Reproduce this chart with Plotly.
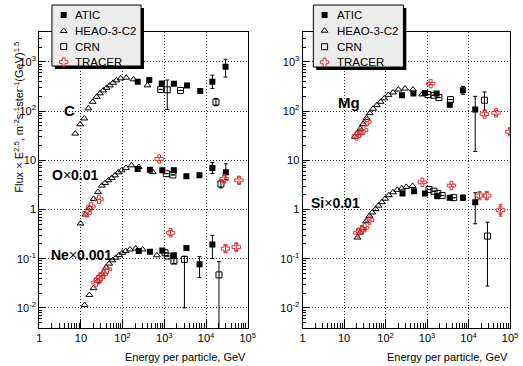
import plotly.graph_objects as go

W, H = 523, 366
FONT = "Arial, 'Liberation Sans', Helvetica, sans-serif"
RED = "rgb(225,50,50)"

# ---------------- data (energy per particle in GeV, flux x E^2.5, scaled) -------------
# Carbon (x1)
HEAO_C_E = [7.3, 9.6, 12.0, 15.1, 19.2, 23.9, 28.6, 34.2, 41.2, 49.3, 59, 71, 90, 122, 182, 396]
HEAO_C_F = [35, 54, 71, 114, 155, 196, 230, 264, 299, 334, 378, 424, 465, 479, 444, 335]
ATIC_C_E = [230, 435, 869, 1698, 3499, 7261, 14190, 29310]
ATIC_C_F = [396, 430, 367, 361, 334, 256, 396, 802]
ATIC_C_HI = [396, 430, 367, 361, 334, 272, 541, 1135]
ATIC_C_LO = [396, 430, 367, 361, 334, 240, 290, 494]
CRN_C_E = [818, 1175, 2438, 17300]
CRN_C_F = [277, 272, 264, 153]
CRN_C_HI = [277, 430, 264, 182]
CRN_C_LO = [277, 108, 264, 129]

# Oxygen (x0.01)
HEAO_O_E = [9.8, 12.8, 16.0, 20.2, 25.6, 31.8, 38.1, 45.6, 55.0, 65.8, 78.7, 94.6, 120, 163, 243, 528]
HEAO_O_F = [0.52, 0.79, 1.07, 1.64, 2.28, 3.06, 3.47, 3.93, 4.39, 4.95, 5.70, 6.27, 7.0, 7.9, 7.35, 5.8]
ATIC_O_E = [230, 450, 893, 1690, 3373, 6950, 14190, 29850]
ATIC_O_F = [6.68, 6.47, 6.27, 6.27, 4.73, 4.95, 7.0, 5.70]
ATIC_O_HI = [6.68, 6.47, 6.27, 6.27, 4.9, 5.2, 9.0, 8.5]
ATIC_O_LO = [6.68, 6.47, 6.27, 6.27, 4.55, 4.7, 5.4, 4.07]
CRN_O_E = [1117, 1607, 22750]
CRN_O_F = [5.37, 5.05, 3.31]
CRN_O_HI = [5.37, 5.05, 3.98]
CRN_O_LO = [5.37, 5.05, 2.75]
TRACER_O_E = [14.1, 17.4, 27.1, 750, 27230, 61660]
TRACER_O_F = [0.853, 1.148, 1.614, 10.66, 4.19, 3.93]
TRACER_O_HI = [0.853, 1.148, 1.614, 11.4, 4.92, 4.62]
TRACER_O_LO = [0.853, 1.148, 1.614, 9.9, 3.57, 3.34]

# Neon (x0.001)
HEAO_NE_E = [12.2, 16.0, 20.0, 25.2, 32.1, 39.8, 47.6, 57.0, 68.7, 82.2, 98.4, 118, 150, 204, 303, 661]
HEAO_NE_F = [0.0114, 0.0183, 0.0251, 0.0352, 0.0481, 0.0656, 0.0791, 0.0923, 0.1047, 0.118,
             0.132, 0.143, 0.154, 0.161, 0.154, 0.117]
ATIC_NE_E = [243, 452, 897, 1694, 3388, 6982, 14190]
ATIC_NE_F = [0.143, 0.139, 0.147, 0.117, 0.164, 0.0767, 0.195]
ATIC_NE_HI = [0.143, 0.139, 0.147, 0.117, 0.176, 0.110, 0.297]
ATIC_NE_LO = [0.143, 0.139, 0.147, 0.117, 0.153, 0.0412, 0.100]
CRN_NE_E = [1040, 1178, 1694, 3034, 20420]
CRN_NE_F = [0.132, 0.113, 0.0893, 0.0968, 0.0468]
CRN_NE_HI = [0.132, 0.113, 0.100, 0.112, 0.0871]
CRN_NE_LO = [0.132, 0.113, 0.0796, 0.0100, 0.002]
TRACER_NE_E = [23.0, 26.1, 29.7, 34.2, 42.6, 1416, 29240, 53210]
TRACER_NE_F = [0.0327, 0.0381, 0.0425, 0.0481, 0.0607, 0.336, 0.160, 0.172]
TRACER_NE_HI = [0.0327, 0.0381, 0.0425, 0.0481, 0.0607, 0.377, 0.188, 0.202]
TRACER_NE_LO = [0.0327, 0.0381, 0.0425, 0.0481, 0.0607, 0.299, 0.136, 0.146]

# Magnesium (x1)
HEAO_MG_E = [18.2, 20.9, 24.5, 28.8, 34.7, 41.7, 50.1, 61.7, 75.9, 93.3, 117, 151, 204, 295, 457, 759]
HEAO_MG_F = [30.2, 35.5, 43.7, 55.0, 72.4, 91.2, 112, 132, 155, 182, 214, 240, 275, 288, 275, 219]
ATIC_MG_E = [248, 468, 891, 1694, 3524, 7311, 14450]
ATIC_MG_F = [210, 228, 234, 228, 135, 265, 108]
ATIC_MG_HI = [210, 228, 234, 228, 148, 319, 200]
ATIC_MG_LO = [210, 228, 234, 228, 123, 221, 15.1]
CRN_MG_E = [1050, 1462, 1923, 3656, 24100]
CRN_MG_F = [217, 210, 189, 172, 167]
CRN_MG_HI = [217, 210, 189, 172, 245]
CRN_MG_LO = [217, 210, 189, 172, 105]
TRACER_MG_E = [19.8, 23.7, 29.5, 35.4, 1219, 24100, 45810, 98850]
TRACER_MG_F = [31.3, 35.4, 41.3, 60.8, 363, 86.9, 92.5, 38.2]
TRACER_MG_HI = [31.3, 35.4, 41.3, 60.8, 380, 95.3, 104, 43.9]
TRACER_MG_LO = [31.3, 35.4, 41.3, 60.8, 347, 79.3, 82.4, 33.3]

# Silicon (x0.01)
HEAO_SI_E = [20.9, 24.5, 28.2, 33.9, 40.7, 47.9, 57.5, 67.6, 81.3, 97.7, 120, 151, 191, 245, 316, 447]
HEAO_SI_F = [0.269, 0.339, 0.417, 0.575, 0.741, 0.871, 1.02, 1.20, 1.41, 1.66, 1.95, 2.24, 2.51, 2.69, 2.88, 3.02]
ATIC_SI_E = [256, 486, 891, 1754, 3516, 7311, 14450]
ATIC_SI_F = [2.11, 2.35, 2.11, 1.86, 1.73, 1.73, 1.41]
ATIC_SI_HI = [2.11, 2.35, 2.11, 1.86, 1.73, 1.96, 2.19]
ATIC_SI_LO = [2.11, 2.35, 2.11, 1.86, 1.73, 1.53, 0.513]
CRN_SI_E = [1109, 1462, 1820, 2307, 4385, 28510]
CRN_SI_F = [2.55, 2.35, 2.11, 1.92, 1.74, 0.288]
CRN_SI_HI = [2.55, 2.35, 2.11, 1.92, 1.74, 0.552]
CRN_SI_LO = [2.55, 2.35, 2.11, 1.92, 1.74, 0.0278]
TRACER_SI_E = [21.6, 26.9, 31.2, 41.0, 769, 3864, 18320, 27350, 58880]
TRACER_SI_F = [0.336, 0.393, 0.426, 0.607, 3.58, 3.07, 1.92, 1.92, 0.968]
TRACER_SI_HI = [0.336, 0.393, 0.426, 0.607, 3.75, 3.25, 2.26, 2.26, 1.28]
TRACER_SI_LO = [0.336, 0.393, 0.426, 0.607, 3.42, 2.9, 1.63, 1.63, 0.734]

X_TICKVALS = [1, 10, 100, 1e3, 1e4, 1e5]
X_TICKTEXT = ["1", "10", "10<sup>2</sup>", "10<sup>3</sup>", "10<sup>4</sup>", "10<sup>5</sup>"]
Y_TICKVALS = [0.01, 0.1, 1, 10, 100, 1000]
Y_TICKTEXT = ["10<sup>-2</sup>", "10<sup>-1</sup>", "1", "10", "10<sup>2</sup>", "10<sup>3</sup>"]
LEGEND_NAMES = ["ATIC", "HEAO-3-C2", "CRN", "TRACER"]

# ---------------- styles ----------------
STYLE = {
    "ATIC": dict(symbol="square", size=6, color="black", line=dict(width=0)),
    "HEAO-3-C2": dict(symbol="triangle-up-open", size=6, color="black", line=dict(width=1, color="black")),
    "CRN": dict(symbol="square-open", size=6, color="black", line=dict(width=1, color="black")),
    "TRACER": dict(symbol="cross-open", size=7, color=RED, line=dict(width=1, color=RED)),
}
ERRCOL = {"ATIC": "black", "HEAO-3-C2": "black", "CRN": "black", "TRACER": RED}

fig = go.Figure()


def add(name, e, f, hi=None, lo=None, panel=1):
    kw = {}
    if hi is not None:
        kw["error_y"] = dict(type="data", symmetric=False,
                             array=[h - v for h, v in zip(hi, f)],
                             arrayminus=[v - l for v, l in zip(f, lo)],
                             color=ERRCOL[name], thickness=1, width=2)
    fig.add_trace(go.Scatter(x=e, y=f, mode="markers", marker=STYLE[name], name=name,
                             showlegend=False, hoverinfo="skip",
                             xaxis="x" if panel == 1 else "x2",
                             yaxis="y" if panel == 1 else "y2", **kw))


# left panel
add("HEAO-3-C2", HEAO_C_E, HEAO_C_F)
add("CRN", CRN_C_E, CRN_C_F, CRN_C_HI, CRN_C_LO)
add("ATIC", ATIC_C_E, ATIC_C_F, ATIC_C_HI, ATIC_C_LO)
add("HEAO-3-C2", HEAO_O_E, HEAO_O_F)
add("CRN", CRN_O_E, CRN_O_F, CRN_O_HI, CRN_O_LO)
add("ATIC", ATIC_O_E, ATIC_O_F, ATIC_O_HI, ATIC_O_LO)
add("TRACER", TRACER_O_E, TRACER_O_F, TRACER_O_HI, TRACER_O_LO)
add("HEAO-3-C2", HEAO_NE_E, HEAO_NE_F)
add("CRN", CRN_NE_E, CRN_NE_F, CRN_NE_HI, CRN_NE_LO)
add("ATIC", ATIC_NE_E, ATIC_NE_F, ATIC_NE_HI, ATIC_NE_LO)
add("TRACER", TRACER_NE_E, TRACER_NE_F, TRACER_NE_HI, TRACER_NE_LO)
# right panel
add("HEAO-3-C2", HEAO_MG_E, HEAO_MG_F, panel=2)
add("CRN", CRN_MG_E, CRN_MG_F, CRN_MG_HI, CRN_MG_LO, panel=2)
add("ATIC", ATIC_MG_E, ATIC_MG_F, ATIC_MG_HI, ATIC_MG_LO, panel=2)
add("TRACER", TRACER_MG_E, TRACER_MG_F, TRACER_MG_HI, TRACER_MG_LO, panel=2)
add("HEAO-3-C2", HEAO_SI_E, HEAO_SI_F, panel=2)
add("CRN", CRN_SI_E, CRN_SI_F, CRN_SI_HI, CRN_SI_LO, panel=2)
add("ATIC", ATIC_SI_E, ATIC_SI_F, ATIC_SI_HI, ATIC_SI_LO, panel=2)
add("TRACER", TRACER_SI_E, TRACER_SI_F, TRACER_SI_HI, TRACER_SI_LO, panel=2)

# ---------------- legend boxes (drawn on a pixel overlay axis) ----------------
def legend_box(x0, y0, x1, y1, mx, tx, rows):
    s = 3
    fig.add_trace(go.Scatter(x=[x0 + s, x1 + s, x1 + s, x0 + s, x0 + s],
                             y=[y0 + s, y0 + s, y1 + s, y1 + s, y0 + s],
                             mode="lines", fill="toself", fillcolor="black",
                             line=dict(color="black", width=0), xaxis="x3", yaxis="y3",
                             showlegend=False, hoverinfo="skip"))
    fig.add_trace(go.Scatter(x=[x0, x1, x1, x0, x0], y=[y0, y0, y1, y1, y0],
                             mode="lines", fill="toself", fillcolor="rgb(236,236,236)",
                             line=dict(color="black", width=1), xaxis="x3", yaxis="y3",
                             showlegend=False, hoverinfo="skip"))
    for name, ry in zip(LEGEND_NAMES, rows):
        fig.add_trace(go.Scatter(x=[mx], y=[ry], mode="markers", marker=STYLE[name],
                                 xaxis="x3", yaxis="y3", showlegend=False, hoverinfo="skip"))
        fig.add_annotation(x=tx, y=ry, xref="x3", yref="y3", text=name, showarrow=False,
                           xanchor="left", yanchor="middle",
                           font=dict(family=FONT, size=11.5, color="black"))


legend_box(50, 5, 141, 66, 62, 72, [15, 31, 46.5, 62])
legend_box(317, 5, 409, 67, 328.5, 339, [15, 30.7, 46.7, 62.3])

# ---------------- axes ----------------
minor_x = [m * 10 ** k for k in range(0, 5) for m in range(2, 10)]
minor_y = [m * 10.0 ** k for k in range(-3, 4) for m in range(2, 10)]
GRID = dict(showgrid=True, gridcolor="rgb(50,50,50)", gridwidth=1, griddash="1px,2px")


def xax(domain):
    return dict(type="log", range=[0, 5], domain=domain, tickvals=X_TICKVALS, ticktext=X_TICKTEXT,
                ticks="inside", ticklen=9, tickwidth=1, tickcolor="black",
                showline=True, linecolor="black", linewidth=1, mirror=True, zeroline=False,
                minor=dict(tickvals=minor_x, ticks="inside", ticklen=5, tickcolor="black",
                           tickwidth=1, showgrid=False),
                tickfont=dict(family=FONT, size=11, color="black"), fixedrange=True, **GRID)


def yax(anchor):
    return dict(type="log", range=[-2.41, 3.61], domain=[38 / H, 334 / H], anchor=anchor,
                tickvals=Y_TICKVALS, ticktext=Y_TICKTEXT,
                ticks="inside", ticklen=6, tickwidth=1, tickcolor="black",
                showline=True, linecolor="black", linewidth=1, mirror=True, zeroline=False,
                minor=dict(tickvals=minor_y, ticks="inside", ticklen=3, tickcolor="black",
                           tickwidth=1, showgrid=False),
                tickfont=dict(family=FONT, size=11, color="black"), fixedrange=True, **GRID)


fig.update_layout(
    width=W, height=H, margin=dict(l=0, r=0, t=0, b=0),
    paper_bgcolor="white", plot_bgcolor="rgba(0,0,0,0)",
    showlegend=False,
    xaxis=dict(xax([37 / W, 250 / W]), anchor="y"),
    yaxis=yax("x"),
    xaxis2=dict(xax([306 / W, 518 / W]), anchor="y2"),
    yaxis2=yax("x2"),
    xaxis3=dict(domain=[0, 1], range=[0, W], visible=False, fixedrange=True, anchor="y3"),
    yaxis3=dict(domain=[0, 1], range=[H, 0], visible=False, fixedrange=True, anchor="x3"),
)

# ---------------- text labels ----------------
def label(x, y, text, size=14, xanchor="center", angle=0):
    fig.add_annotation(x=x, y=y, xref="x3", yref="y3", text=text, showarrow=False,
                       xanchor=xanchor, yanchor="middle", textangle=angle,
                       font=dict(family=FONT, size=size, color="black"))


label(68, 110, "<b>C</b>", size=15)
label(74, 175, "<b>O</b>×<b>0.01</b>")
label(80, 255, "<b>Ne</b>×<b>0.001</b>")
label(353, 102, "<b>Mg</b>", size=15)
label(340, 203, "<b>Si</b>×<b>0.01</b>")

label(250, 357, "Energy per particle, GeV", size=11, xanchor="right")
label(518, 357, "Energy per particle, GeV", size=11, xanchor="right")
label(16, 117, "Flux × E<sup>2.5</sup>, m<sup>-2</sup>s<sup>-1</sup>ster<sup>-1</sup>(GeV)<sup>1.5</sup>",
      size=11, angle=-90)

fig.write_html("out.html", config={"displayModeBar": False},
               post_script="document.body.style.margin='0px';document.body.style.padding='0px';")
